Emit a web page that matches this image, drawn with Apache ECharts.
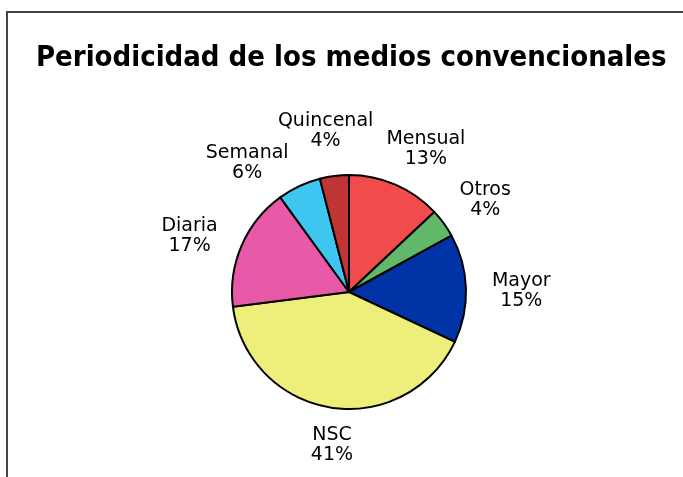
<!DOCTYPE html>
<html>
<head>
<meta charset="utf-8">
<script src="https://cdn.jsdelivr.net/npm/echarts@6/dist/echarts.min.js"></script>
<style>
  html, body { margin: 0; padding: 0; background: #fff; }
  #chart { width: 683px; height: 477px; }
</style>
</head>
<body>
<div id="chart"></div>
<script>
const categories = ['Mensual', 'Otros', 'Mayor', 'NSC', 'Diaria', 'Semanal', 'Quincenal']
const values = [13, 4, 15, 41, 17, 6, 4]
const colors = ['#f24b4b', '#60b868', '#0033a6', '#eeee7a', '#e85aa8', '#3ec6f0', '#c03434']
// small manual shifts of the labels, like the spreadsheet's own overlap fixing
const labelNudge = [[6, 3], [3, 2], [4, 4], [8, -4], [-6, 7], [-25, 15], [0, -3]]

const CX = 349
const CY = 292
const R = 117
const GAP = 22

const total = values.reduce((a, b) => a + b, 0)

const midAngle = (index) => {
    let before = 0
    for (let i = 0; i < index; i++) before += values[i]
    return (before + values[index] / 2) / total * Math.PI * 2
}

const myChart = echarts.init(document.getElementById('chart'))

const option = {
    animation: false,
    title: {
        text: 'Periodicidad de los medios convencionales',
        left: 31,
        top: 39,
        textStyle: {
            fontFamily: '"Liberation Sans Narrow", "DejaVu Sans Condensed", sans-serif',
            fontWeight: 'bold',
            fontSize: 29,
            color: '#000'
        }
    },
    graphic: [
        {
            type: 'polyline',
            shape: { points: [[7, 477], [7, 12], [683, 12]] },
            style: { stroke: '#444', lineWidth: 2, fill: null }
        }
    ],
    series: [
        {
            type: 'pie',
            center: [CX, CY],
            radius: R,
            startAngle: 90,
            clockwise: true,
            avoidLabelOverlap: false,
            data: categories.map((name, i) => ({
                name: name,
                value: values[i],
                itemStyle: { color: colors[i] }
            })),
            itemStyle: {
                borderColor: '#000',
                borderWidth: 2
            },
            label: {
                show: true,
                position: 'outside',
                formatter: '{b}\n{c}%',
                fontFamily: '"DejaVu Sans", sans-serif',
                fontSize: 19,
                lineHeight: 20,
                color: '#000',
                align: 'center'
            },
            labelLine: { show: false },
            labelLayout: (params) => {
                const i = params.dataIndex
                const a = midAngle(i)
                const dx = Math.sin(a)
                const dy = -Math.cos(a)
                const w = params.labelRect.width
                const h = params.labelRect.height
                return {
                    x: CX + dx * (R + GAP + w / 2) + labelNudge[i][0],
                    y: CY + dy * (R + GAP + h / 2) + labelNudge[i][1],
                    align: 'center',
                    verticalAlign: 'middle'
                }
            },
            emphasis: { disabled: true }
        }
    ]
}
myChart.setOption(option)
</script>
</body>
</html>
